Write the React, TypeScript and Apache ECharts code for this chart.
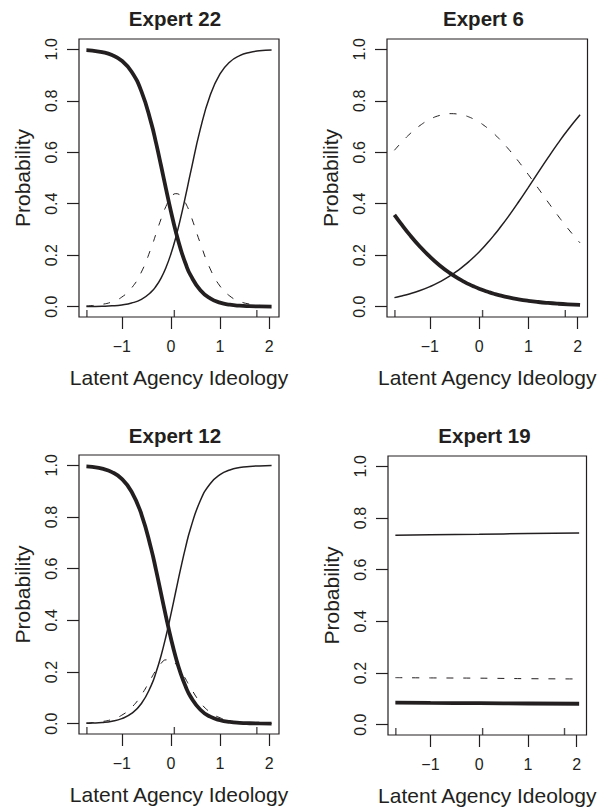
import React, { useEffect, useRef } from "react";
import * as echarts from "echarts";

// Shared ideology grid (x) for experts 22, 6 and 12
const ideology = [-1.72, -1.6, -1.4, -1.2, -1.0, -0.8, -0.6, -0.4, -0.3, -0.2, -0.1, 0.0, 0.1, 0.2, 0.3, 0.4, 0.6, 0.8, 1.0, 1.2, 1.4, 1.6, 1.8, 2.05];

// Expert 22
const expert22Low = [0.9965, 0.9947, 0.9891, 0.9779, 0.9557, 0.913, 0.8363, 0.7132, 0.6344, 0.5476, 0.4579, 0.3708, 0.2913, 0.2229, 0.1667, 0.1225, 0.0636, 0.032, 0.0158, 0.0078, 0.0038, 0.0019, 0.0009, 0.0004];
const expert22Mid = [0.003, 0.0045, 0.0092, 0.0187, 0.0373, 0.0728, 0.1349, 0.2293, 0.2852, 0.341, 0.3898, 0.4245, 0.4392, 0.4312, 0.4021, 0.3568, 0.2458, 0.147, 0.0801, 0.0413, 0.0208, 0.0102, 0.005, 0.002];
const expert22High = [0.0005, 0.0008, 0.0017, 0.0034, 0.007, 0.0142, 0.0288, 0.0575, 0.0804, 0.1114, 0.1523, 0.2047, 0.2695, 0.3459, 0.4312, 0.5207, 0.6906, 0.821, 0.9041, 0.9509, 0.9754, 0.9879, 0.9941, 0.9976];

// Expert 6
const expert6Low = [0.357, 0.326, 0.2771, 0.2331, 0.1942, 0.1603, 0.1314, 0.1071, 0.0965, 0.0868, 0.0781, 0.0701, 0.0628, 0.0564, 0.0505, 0.0452, 0.0362, 0.0289, 0.023, 0.0183, 0.0146, 0.0116, 0.0092, 0.0069];
const expert6Mid = [0.6077, 0.6335, 0.6724, 0.7041, 0.7277, 0.7432, 0.75, 0.7476, 0.7432, 0.7366, 0.7277, 0.717, 0.7041, 0.6891, 0.6724, 0.6537, 0.6117, 0.5645, 0.5132, 0.46, 0.4062, 0.3538, 0.3043, 0.2476];
const expert6High = [0.0353, 0.0405, 0.0505, 0.0628, 0.0781, 0.0965, 0.1186, 0.1453, 0.1603, 0.1766, 0.1942, 0.2129, 0.2331, 0.2545, 0.2771, 0.3011, 0.3521, 0.4066, 0.4638, 0.5217, 0.5792, 0.6346, 0.6865, 0.7455];

// Expert 12
const expert12Low = [0.9959, 0.9937, 0.9871, 0.9738, 0.9475, 0.8979, 0.8106, 0.6757, 0.5924, 0.5036, 0.4145, 0.3306, 0.2562, 0.1938, 0.1436, 0.1047, 0.0539, 0.027, 0.0133, 0.0065, 0.0032, 0.0016, 0.0008, 0.0003];
const expert12Mid = [0.0026, 0.004, 0.0082, 0.0165, 0.0328, 0.0626, 0.1114, 0.1762, 0.208, 0.2333, 0.247, 0.2463, 0.2312, 0.2051, 0.1729, 0.1395, 0.082, 0.0441, 0.0227, 0.0113, 0.0056, 0.0027, 0.0013, 0.0006];
const expert12High = [0.0015, 0.0023, 0.0047, 0.0097, 0.0197, 0.0395, 0.078, 0.1481, 0.1996, 0.2631, 0.3385, 0.4231, 0.5126, 0.6011, 0.6835, 0.7558, 0.8641, 0.9289, 0.964, 0.9822, 0.9912, 0.9957, 0.9979, 0.9991];

// Expert 19 (nearly flat)
const expert19X = [-1.72, -1.0, 0.0, 1.0, 2.05];
const expert19Low = [0.085, 0.084, 0.083, 0.082, 0.081];
const expert19Mid = [0.182, 0.181, 0.18, 0.178, 0.177];
const expert19High = [0.733, 0.735, 0.737, 0.74, 0.742];

// Rug marks along the bottom of each panel
const rugMarks = [-1.71, 0.07, 1.75];

const yTicks = [0, 0.2, 0.4, 0.6, 0.8, 1.0];
const xTicks = [-1, 0, 1, 2];
const panelTitles = ["Expert 22", "Expert 6", "Expert 12", "Expert 19"];
const xAxisTitle = "Latent Agency Ideology";
const yAxisTitle = "Probability";

const INK = "#231f20";
const FONT = "'Liberation Sans', Arial, Helvetica, sans-serif";

const panels = [
  { title: panelTitles[0], x: ideology, low: expert22Low, mid: expert22Mid, high: expert22High },
  { title: panelTitles[1], x: ideology, low: expert6Low, mid: expert6Mid, high: expert6High },
  { title: panelTitles[2], x: ideology, low: expert12Low, mid: expert12Mid, high: expert12High },
  { title: panelTitles[3], x: expert19X, low: expert19Low, mid: expert19Mid, high: expert19High },
];

const boxes = [
  { left: 79, top: 39, width: 200, height: 278, titleTop: 8 },
  { left: 387, top: 39, width: 201, height: 278, titleTop: 8 },
  { left: 79, top: 455, width: 200, height: 279, titleTop: 425 },
  { left: 388, top: 456, width: 201, height: 279, titleTop: 425 },
];

const zip = (xs: number[], ys: number[]) => xs.map((x, i) => [x, ys[i]]);
const fmtX = (v: number) => (v < 0 ? "\u2212" + Math.abs(v) : String(v));

export default function App() {
  const ref = useRef<HTMLDivElement>(null);

  useEffect(() => {
    if (!ref.current) return;
    const chart = echarts.init(ref.current, undefined, { renderer: "svg" });

    const series: any[] = [];
    panels.forEach((p, i) => {
      series.push({
        type: "line", xAxisIndex: i, yAxisIndex: i, data: zip(p.x, p.low),
        symbol: "none", smooth: 0.5, silent: true,
        lineStyle: { color: INK, width: 3.8 },
      });
      series.push({
        type: "line", xAxisIndex: i, yAxisIndex: i, data: zip(p.x, p.mid),
        symbol: "none", smooth: 0.5, silent: true,
        lineStyle: { color: INK, width: 1, type: [7, 10] },
      });
      series.push({
        type: "line", xAxisIndex: i, yAxisIndex: i, data: zip(p.x, p.high),
        symbol: "none", smooth: 0.5, silent: true,
        lineStyle: { color: INK, width: 1.5 },
      });
      series.push({
        type: "scatter", xAxisIndex: i, yAxisIndex: i,
        data: rugMarks.map((v) => [v, -0.04]),
        symbol: "rect", symbolSize: [1.4, 7], symbolOffset: [0, -3.5], silent: true,
        itemStyle: { color: INK },
      });
    });

    chart.setOption({
      animation: false,
      backgroundColor: "#ffffff",
      textStyle: { fontFamily: FONT },
      title: boxes.map((b, i) => ({
        text: panels[i].title,
        left: b.left + b.width / 2 - 4,
        top: b.titleTop,
        padding: 0,
        textAlign: "center",
        textStyle: { fontSize: 20.5, fontWeight: "bold", color: INK, fontFamily: FONT },
      })),
      grid: boxes.map((b) => ({
        left: b.left, top: b.top, width: b.width, height: b.height,
        show: true, borderColor: INK, borderWidth: 1.2, backgroundColor: "transparent",
      })),
      xAxis: boxes.map((b, i) => ({
        type: "value", gridIndex: i, min: -1.871, max: 2.201,
        name: xAxisTitle, nameLocation: "middle", nameGap: 50,
        nameTextStyle: { fontSize: 21, color: INK, fontFamily: FONT },
        axisLine: { show: false, onZero: false },
        axisTick: { show: true, inside: false, length: 12, customValues: xTicks, lineStyle: { color: INK, width: 1.2 } },
        axisLabel: { customValues: xTicks, margin: 21, fontSize: 16, color: INK, fontFamily: FONT, formatter: fmtX },
        splitLine: { show: false },
      })),
      yAxis: boxes.map((b, i) => ({
        type: "value", gridIndex: i, min: -0.04, max: 1.04,
        name: yAxisTitle, nameLocation: "middle", nameGap: 46, nameRotate: 90,
        nameTextStyle: { fontSize: 21, color: INK, fontFamily: FONT },
        axisLine: { show: false, onZero: false },
        axisTick: { show: true, inside: false, length: 12, customValues: yTicks, lineStyle: { color: INK, width: 1.2 } },
        axisLabel: { customValues: yTicks, rotate: 90, margin: 20, fontSize: 16, color: INK, fontFamily: FONT, formatter: (v: number) => v.toFixed(1) },
        splitLine: { show: false },
      })),
      series,
    });

    return () => chart.dispose();
  }, []);

  return (
    <div
      ref={ref}
      style={{ position: "absolute", left: 0, top: 0, width: 599, height: 808, background: "#fff" }}
    />
  );
}
